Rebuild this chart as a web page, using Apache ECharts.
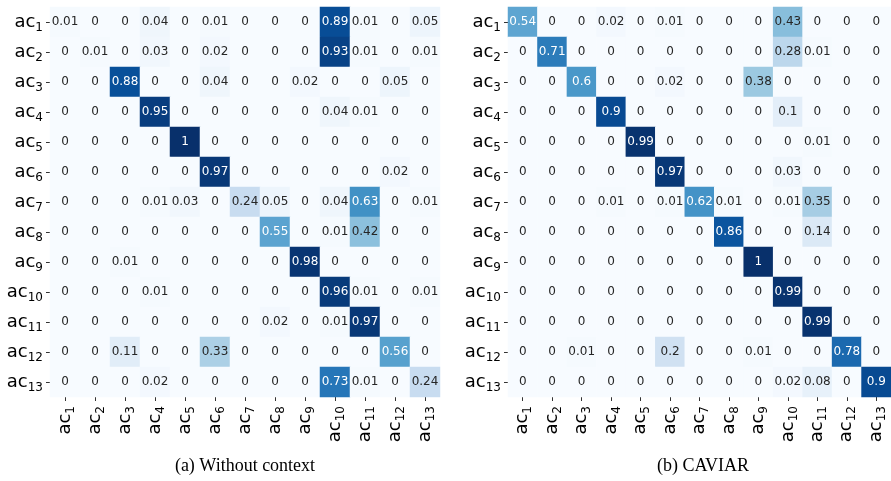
<!DOCTYPE html>
<html>
<head>
<meta charset="utf-8">
<script src="https://cdn.jsdelivr.net/npm/echarts@6/dist/echarts.min.js"></script>
<style>html,body{margin:0;padding:0;background:#fff}#c{width:891px;height:481px}</style>
</head>
<body>
<div id="c"></div>
<script>
var categories = ['ac1','ac2','ac3','ac4','ac5','ac6','ac7','ac8','ac9','ac10','ac11','ac12','ac13'];

var withoutContext = [
  [0.01,0,0,0.04,0,0.01,0,0,0,0.89,0.01,0,0.05],
  [0,0.01,0,0.03,0,0.02,0,0,0,0.93,0.01,0,0.01],
  [0,0,0.88,0,0,0.04,0,0,0.02,0,0,0.05,0],
  [0,0,0,0.95,0,0,0,0,0,0.04,0.01,0,0],
  [0,0,0,0,1,0,0,0,0,0,0,0,0],
  [0,0,0,0,0,0.97,0,0,0,0,0,0.02,0],
  [0,0,0,0.01,0.03,0,0.24,0.05,0,0.04,0.63,0,0.01],
  [0,0,0,0,0,0,0,0.55,0,0.01,0.42,0,0],
  [0,0,0.01,0,0,0,0,0,0.98,0,0,0,0],
  [0,0,0,0.01,0,0,0,0,0,0.96,0.01,0,0.01],
  [0,0,0,0,0,0,0,0.02,0,0.01,0.97,0,0],
  [0,0,0.11,0,0,0.33,0,0,0,0,0,0.56,0],
  [0,0,0,0.02,0,0,0,0,0,0.73,0.01,0,0.24]
];

var caviar = [
  [0.54,0,0,0.02,0,0.01,0,0,0,0.43,0,0,0],
  [0,0.71,0,0,0,0,0,0,0,0.28,0.01,0,0],
  [0,0,0.6,0,0,0.02,0,0,0.38,0,0,0,0],
  [0,0,0,0.9,0,0,0,0,0,0.1,0,0,0],
  [0,0,0,0,0.99,0,0,0,0,0,0.01,0,0],
  [0,0,0,0,0,0.97,0,0,0,0.03,0,0,0],
  [0,0,0,0.01,0,0.01,0.62,0.01,0,0.01,0.35,0,0],
  [0,0,0,0,0,0,0,0.86,0,0,0.14,0,0],
  [0,0,0,0,0,0,0,0,1,0,0,0,0],
  [0,0,0,0,0,0,0,0,0,0.99,0,0,0],
  [0,0,0,0,0,0,0,0,0,0,0.99,0,0],
  [0,0,0.01,0,0,0.2,0,0,0.01,0,0,0.78,0],
  [0,0,0,0,0,0,0,0,0,0.02,0.08,0,0.9]
];

var captions = ['(a) Without context', '(b) CAVIAR'];

function toTriples(m){
  var out = [];
  for (var r = 0; r < m.length; r++)
    for (var c = 0; c < m[r].length; c++)
      out.push([c, r, m[r][c]]);
  return out;
}

var tickRich = {
  a: {fontSize: 18, fontFamily: 'DejaVu Sans', color: '#000', lineHeight: 18},
  s: {fontSize: 12, fontFamily: 'DejaVu Sans', color: '#000', lineHeight: 12, padding: [11,0,0,0]}
};
function tickFmt(v){ return '{a|ac}{s|' + v.replace('ac','') + '}'; }

function cellFmt(p){
  var v = p.value[2];
  return (v > 0.47 ? '{w|' : '{d|') + String(v) + '}';
}

var grids = [
  {left: 50, top: 7, width: 390, height: 390},
  {left: 508, top: 7, width: 390, height: 390}
];

function xAx(i){
  return {
    type: 'category', gridIndex: i, data: categories, position: 'bottom',
    axisLine: {show: true, lineStyle: {color: '#ffffff', width: 1}},
    splitArea: {show: false}, splitLine: {show: false},
    axisTick: {show: true, length: 4, inside: false, alignWithLabel: true, interval: 0, lineStyle: {color: '#333333', width: 1}},
    axisLabel: {rotate: 90, margin: 9, formatter: tickFmt, rich: tickRich, interval: 0}
  };
}
function yAx(i){
  return {
    type: 'category', gridIndex: i, data: categories, inverse: true,
    axisLine: {show: true, lineStyle: {color: '#ffffff', width: 1}},
    splitArea: {show: false}, splitLine: {show: false},
    axisTick: {show: true, length: 4, inside: false, alignWithLabel: true, interval: 0, lineStyle: {color: '#333333', width: 1}},
    axisLabel: {margin: 7, formatter: tickFmt, rich: tickRich, interval: 0}
  };
}
function series(i, m){
  return {
    type: 'heatmap', xAxisIndex: i, yAxisIndex: i, data: toTriples(m),
    label: {
      show: true, formatter: cellFmt,
      rich: {
        w: {color: '#ffffff', fontSize: 12, fontFamily: 'DejaVu Sans'},
        d: {color: '#262626', fontSize: 12, fontFamily: 'DejaVu Sans'}
      }
    },
    itemStyle: {borderWidth: 0},
    emphasis: {disabled: true}
  };
}

var chart = echarts.init(document.getElementById('c'), null, {renderer: 'canvas'});
chart.setOption({
  animation: false,
  backgroundColor: '#ffffff',
  grid: grids,
  xAxis: [xAx(0), xAx(1)],
  yAxis: [yAx(0), yAx(1)],
  visualMap: {
    show: false, min: 0, max: 1, seriesIndex: [0,1], dimension: 2,
    inRange: {color: ['#f7fbff','#deebf7','#c6dbef','#9ecae1','#6baed6','#4292c6','#2171b5','#08519c','#08306b']}
  },
  series: [series(0, withoutContext), series(1, caviar)],
  graphic: [
    {type: 'text', x: 245, y: 466, style: {text: captions[0], font: '18px "Liberation Serif"', fill: '#000', align: 'center', verticalAlign: 'middle'}},
    {type: 'text', x: 703, y: 466, style: {text: captions[1], font: '18px "Liberation Serif"', fill: '#000', align: 'center', verticalAlign: 'middle'}}
  ]
});
</script>
</body>
</html>
